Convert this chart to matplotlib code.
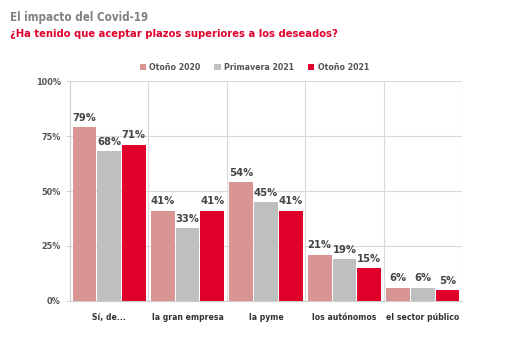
import numpy as np
import matplotlib
matplotlib.use("Agg")
from matplotlib import pyplot as plt

categories = ["Sí, de...", "la gran empresa", "la pyme", "los autónomos", "el sector público"]
series_names = ["Otoño 2020", "Primavera 2021", "Otoño 2021"]
otono_2020 = [79, 41, 54, 21, 6]
primavera_2021 = [68, 33, 45, 19, 6]
otono_2021 = [71, 41, 41, 15, 5]
colors = ["#d99594", "#bfbfbf", "#e0002b"]

plt.rcParams['font.family'] = ['DejaVu Sans']
plt.rcParams['font.stretch'] = 'condensed'

fig = plt.figure(figsize=(5.1, 3.42), dpi=100)
ax = fig.add_axes([0.137, 0.12, 0.769, 0.643])

x = np.arange(len(categories))
w = 0.315
for i, (vals, name) in enumerate(zip([otono_2020, primavera_2021, otono_2021], series_names)):
    pos = x + (i - 1) * w
    ax.bar(pos, vals, width=w * 0.96, color=colors[i], label=name, zorder=3)
    for p, v in zip(pos, vals):
        ax.text(p, v + 2, "{}%".format(v), ha="center", va="bottom",
                fontsize=8, fontweight="bold", color="#444444", zorder=4)

ax.set_xlim(-0.5, 4.5)
ax.set_ylim(0, 100)
ax.set_yticks([0, 25, 50, 75, 100])
ax.set_yticklabels(["0%", "25%", "50%", "75%", "100%"])
ax.set_xticks(x)
ax.set_xticklabels(categories, fontweight="bold")
ax.tick_params(axis="x", length=0, labelsize=6.2, colors="#333333", pad=9)
ax.tick_params(axis="y", length=3, labelsize=6.5, colors="#555555", width=0.6)
for t in ax.get_yticklabels():
    t.set_fontweight("bold")
ax.yaxis.grid(True, color="#d9d9d9", linewidth=0.8, zorder=0)
for b in [0.5, 1.5, 2.5, 3.5, 4.5]:
    ax.axvline(b, color="#d9d9d9", linewidth=0.8, zorder=0)
for s in ["top", "right"]:
    ax.spines[s].set_visible(False)
ax.spines["left"].set_color("#cccccc")
ax.spines["bottom"].set_color("#cccccc")
ax.tick_params(axis="y", color="#cccccc")

ax.legend(loc="lower center", bbox_to_anchor=(0.47, 1.005), ncol=3, frameon=False,
          handlelength=0.7, handleheight=0.7, handletextpad=0.4,
          columnspacing=1.6, prop={"weight": "bold", "size": 6.3, "stretch": "condensed"})
for t in ax.get_legend().get_texts():
    t.set_color("#555555")

fig.text(0.02, 0.95, "El impacto del Covid-19", fontsize=8.3, fontweight="bold",
         color="#808080", va="center")
fig.text(0.02, 0.902, "¿Ha tenido que aceptar plazos superiores a los deseados?",
         fontsize=8, fontweight="bold", color="#e0002b", va="center")

fig.savefig("out.png", dpi=100)
